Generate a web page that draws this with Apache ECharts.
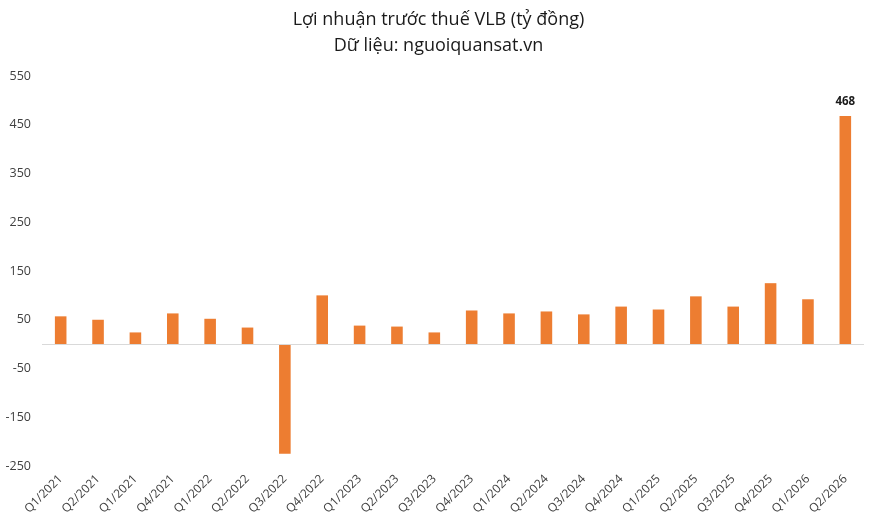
<!DOCTYPE html>
<html><head><meta charset="utf-8">
<script src="https://cdn.jsdelivr.net/npm/echarts@6/dist/echarts.min.js"></script>
<style>html,body{margin:0;padding:0;background:#fff}#c{width:877px;height:531px}</style>
</head><body><div id="c"></div>
<script>
const titleText = 'Lợi nhuận trước thuế VLB (tỷ đồng)';
const subtitleText = 'Dữ liệu: nguoiquansat.vn';
const categories = ['Q1/2021','Q2/2021','Q1/2021','Q4/2021','Q1/2022','Q2/2022','Q3/2022','Q4/2022','Q1/2023','Q2/2023','Q3/2023','Q4/2023','Q1/2024','Q2/2024','Q3/2024','Q4/2024','Q1/2025','Q2/2025','Q3/2025','Q4/2025','Q1/2026','Q2/2026'];
const profit = [57, 50, 24, 63, 52, 34, -225, 100, 38, 36, 24, 69, 63, 67, 61, 77, 71, 98, 77, 125, 92, 468];
const labelledIndex = [21];
const yMin = -250, yMax = 550, yStep = 50;

const chart = echarts.init(document.getElementById('c'), null, {renderer:'canvas'});
chart.setOption({
  animation: false,
  backgroundColor: '#fff',
  title: [
    {text: titleText, left: 'center', top: 6, textStyle: {fontFamily: 'Open Sans', fontWeight: 'normal', fontSize: 18, color: '#1a1a1a'}},
    {text: subtitleText, left: 'center', top: 32, textStyle: {fontFamily: 'Open Sans', fontWeight: 'normal', fontSize: 18, color: '#1a1a1a'}}
  ],
  grid: {left: 42, right: 13, top: 76, bottom: 65, containLabel: false},
  xAxis: {
    type: 'category', data: categories,
    axisLine: {show: false}, axisTick: {show: false},
    axisLabel: {rotate: 45, interval: 0, margin: 11, fontFamily: 'Open Sans', fontSize: 12, color: '#404040'}
  },
  yAxis: {
    type: 'value', min: yMin, max: yMax, interval: yStep,
    splitLine: {show: false}, axisLine: {show: false}, axisTick: {show: false},
    axisLabel: {
      fontFamily: 'Open Sans', fontSize: 12.5, color: '#404040', margin: 11,
      formatter: v => (Math.round(v / yStep) % 2 !== 0) ? String(v) : ''
    }
  },
  series: [{
    type: 'bar', data: profit.map((v, i) => ({
      value: v,
      label: {show: labelledIndex.includes(i), position: 'top', fontFamily: 'Open Sans', fontWeight: 'bold', fontSize: 11.5, color: '#1a1a1a', distance: 8}
    })),
    barWidth: '31%',
    itemStyle: {color: '#ED7D31'},
    markLine: {
      silent: true, symbol: 'none', label: {show: false},
      lineStyle: {color: '#d9d9d9', type: 'solid', width: 1},
      data: [{yAxis: 0}]
    }
  }]
});
</script></body></html>
